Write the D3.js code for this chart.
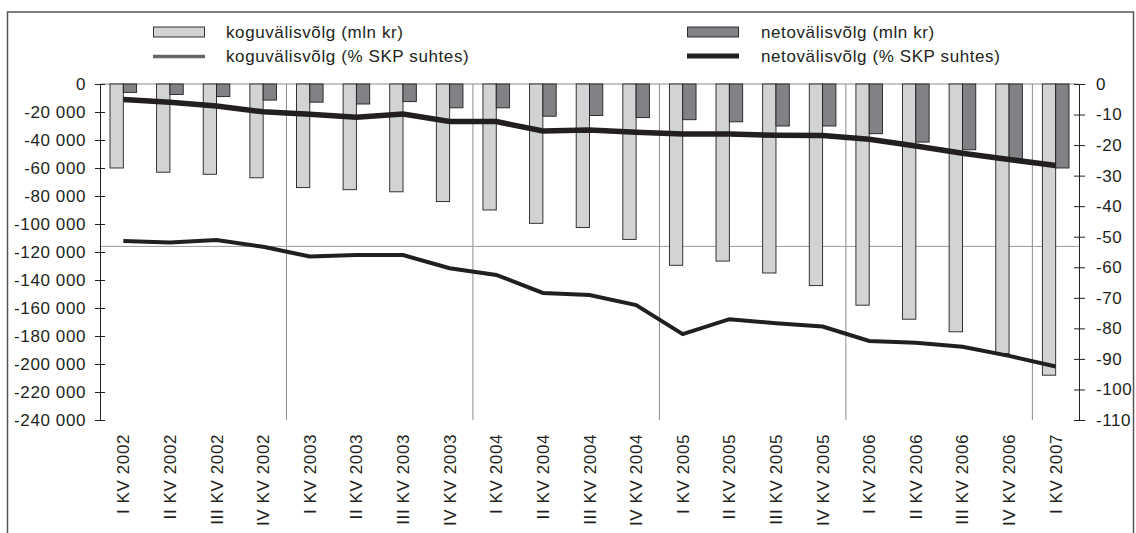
<!DOCTYPE html>
<html>
<head>
<meta charset="utf-8">
<script src="https://cdn.jsdelivr.net/npm/d3@7"></script>
<style>
  html, body { margin: 0; padding: 0; background: #fff; }
  svg text { font-family: "Liberation Sans", Arial, Helvetica, sans-serif; font-size: 17px; letter-spacing: 0.6px; fill: #231f20; }
</style>
</head>
<body>
<svg id="chart" width="1136" height="533"></svg>
<script>
const categories = ["I KV 2002","II KV 2002","III KV 2002","IV KV 2002",
  "I KV 2003","II KV 2003","III KV 2003","IV KV 2003",
  "I KV 2004","II KV 2004","III KV 2004","IV KV 2004",
  "I KV 2005","II KV 2005","III KV 2005","IV KV 2005",
  "I KV 2006","II KV 2006","III KV 2006","IV KV 2006","I KV 2007"];
const koguMln = [-60000,-63000,-64500,-67000,-74000,-75500,-77000,-84000,-90000,-99500,-102500,-111000,-129500,-126500,-135000,-144000,-158000,-168000,-177000,-192500,-208000];
const netoMln = [-6000,-7500,-9000,-11500,-13000,-14300,-12600,-17000,-17000,-23000,-22500,-24000,-25500,-27000,-30000,-30000,-35500,-41500,-47000,-53500,-60000];
const koguPct = [-51.4,-51.9,-51.1,-53.3,-56.5,-56.0,-56.0,-60.3,-62.5,-68.4,-69.1,-72.4,-81.9,-77.0,-78.3,-79.4,-84.1,-84.7,-86.0,-89.0,-92.5];
const netoPct = [-5.1,-6.0,-7.2,-9.1,-9.9,-10.9,-9.8,-12.3,-12.3,-15.4,-15.1,-15.8,-16.4,-16.4,-16.8,-16.9,-18.1,-20.3,-22.7,-24.7,-26.7];
const leftTicks = d3.range(0, -240001, -20000);
const rightTicks = d3.range(0, -111, -10);
const refLineValue = -116000;
const legendLabels = ["koguvälisvõlg (mln kr)","netovälisvõlg (mln kr)","koguvälisvõlg (% SKP suhtes)","netovälisvõlg (% SKP suhtes)"];

const svg = d3.select("#chart");
const L = 100, R = 1079, T = 84, B = 420;

const x = d3.scaleBand().domain(categories).range([L, R]).paddingInner(0).paddingOuter(0);
const xSub = d3.scaleBand().domain(["kogu","neto"]).range([10, x.bandwidth() - 10]).padding(0);
const yL = d3.scaleLinear().domain([-240000, 0]).range([B, T]);
const yR = d3.scaleLinear().domain([-110, 0]).range([B, T]);

// frame
svg.append("rect").attr("x", 7.5).attr("y", 12).attr("width", 1126).attr("height", 540)
  .attr("fill", "none").attr("stroke", "#555").attr("stroke-width", 1.5);

// year separators
const sepIdx = categories.map((c, i) => i).filter(i => i > 0 && categories[i].startsWith("I KV"));
svg.append("g").selectAll("line").data(sepIdx).join("line")
  .attr("x1", i => x(categories[i])).attr("x2", i => x(categories[i]))
  .attr("y1", T).attr("y2", B).attr("stroke", "#8c8c8c").attr("stroke-width", 1);

// reference horizontal line
svg.append("line").attr("x1", L).attr("x2", R).attr("y1", yL(refLineValue)).attr("y2", yL(refLineValue))
  .attr("stroke", "#9a9a9a").attr("stroke-width", 1);

// zero line
svg.append("line").attr("x1", L).attr("x2", R).attr("y1", yL(0)).attr("y2", yL(0))
  .attr("stroke", "#8c8c8c").attr("stroke-width", 1);

// bars
const barG = svg.append("g");
barG.selectAll("rect.kogu").data(koguMln).join("rect").attr("class", "kogu")
  .attr("x", (d, i) => x(categories[i]) + xSub("kogu"))
  .attr("width", xSub.bandwidth())
  .attr("y", yL(0)).attr("height", d => yL(d) - yL(0))
  .attr("fill", "#d1d3d4").attr("stroke", "#231f20").attr("stroke-width", 0.9);
barG.selectAll("rect.neto").data(netoMln).join("rect").attr("class", "neto")
  .attr("x", (d, i) => x(categories[i]) + xSub("neto"))
  .attr("width", xSub.bandwidth())
  .attr("y", yL(0)).attr("height", d => yL(d) - yL(0))
  .attr("fill", "#808285").attr("stroke", "#231f20").attr("stroke-width", 0.9);

// lines
const cx = i => x(categories[i]) + x.bandwidth() / 2;
const lineGen = d3.line().x((d, i) => cx(i)).y(d => yR(d));
svg.append("path").datum(koguPct).attr("d", lineGen).attr("fill", "none")
  .attr("stroke", "#231f20").attr("stroke-width", 4);
svg.append("path").datum(netoPct).attr("d", lineGen).attr("fill", "none")
  .attr("stroke", "#231f20").attr("stroke-width", 5.5);

// left axis
const fmt = d => d === 0 ? "0" : d3.format(",")(d).replace(/,/g, " ").replace("−", "-");
const axL = svg.append("g").attr("transform", `translate(${L},0)`)
  .call(d3.axisLeft(yL).tickValues(leftTicks).tickFormat(fmt).tickSizeInner(5).tickSizeOuter(0).tickPadding(9));
axL.select(".domain").attr("stroke", "#231f20");
axL.selectAll(".tick line").attr("x1", -5).attr("x2", 5).attr("stroke", "#231f20");
axL.selectAll("text").attr("font-size", null).attr("font-family", null).style("font-size", "17px");

// right axis
const axR = svg.append("g").attr("transform", `translate(${R},0)`)
  .call(d3.axisRight(yR).tickValues(rightTicks).tickFormat(d => d === 0 ? "0" : String(d)).tickSizeInner(6).tickSizeOuter(0).tickPadding(11));
axR.select(".domain").attr("stroke", "#231f20");
axR.selectAll(".tick line").attr("x1", -5).attr("x2", 6).attr("stroke", "#231f20");
axR.selectAll("text").attr("font-size", null).attr("font-family", null).style("font-size", "17px");

// x labels
svg.append("g").selectAll("text").data(categories).join("text")
  .attr("transform", (d, i) => `translate(${cx(i) + 6},434) rotate(-90)`)
  .attr("text-anchor", "end").text(d => d);

// legend
const lg = svg.append("g");
lg.append("rect").attr("x", 153.5).attr("y", 27).attr("width", 51).attr("height", 10)
  .attr("fill", "#d1d3d4").attr("stroke", "#231f20").attr("stroke-width", 0.9);
lg.append("rect").attr("x", 687.5).attr("y", 27).attr("width", 51).attr("height", 10)
  .attr("fill", "#808285").attr("stroke", "#231f20").attr("stroke-width", 0.9);
lg.append("line").attr("x1", 153).attr("x2", 205).attr("y1", 56.5).attr("y2", 56.5)
  .attr("stroke", "#666", ).attr("stroke-width", 3.5);
lg.append("line").attr("x1", 687).attr("x2", 739).attr("y1", 56).attr("y2", 56)
  .attr("stroke", "#231f20").attr("stroke-width", 5);
const legPos = [[226, 32], [761, 32], [226, 56], [761, 56]];
lg.selectAll("text").data(legendLabels).join("text")
  .attr("x", (d, i) => legPos[i][0]).attr("y", (d, i) => legPos[i][1])
  .attr("dy", "0.35em").text(d => d);
</script>
</body>
</html>
